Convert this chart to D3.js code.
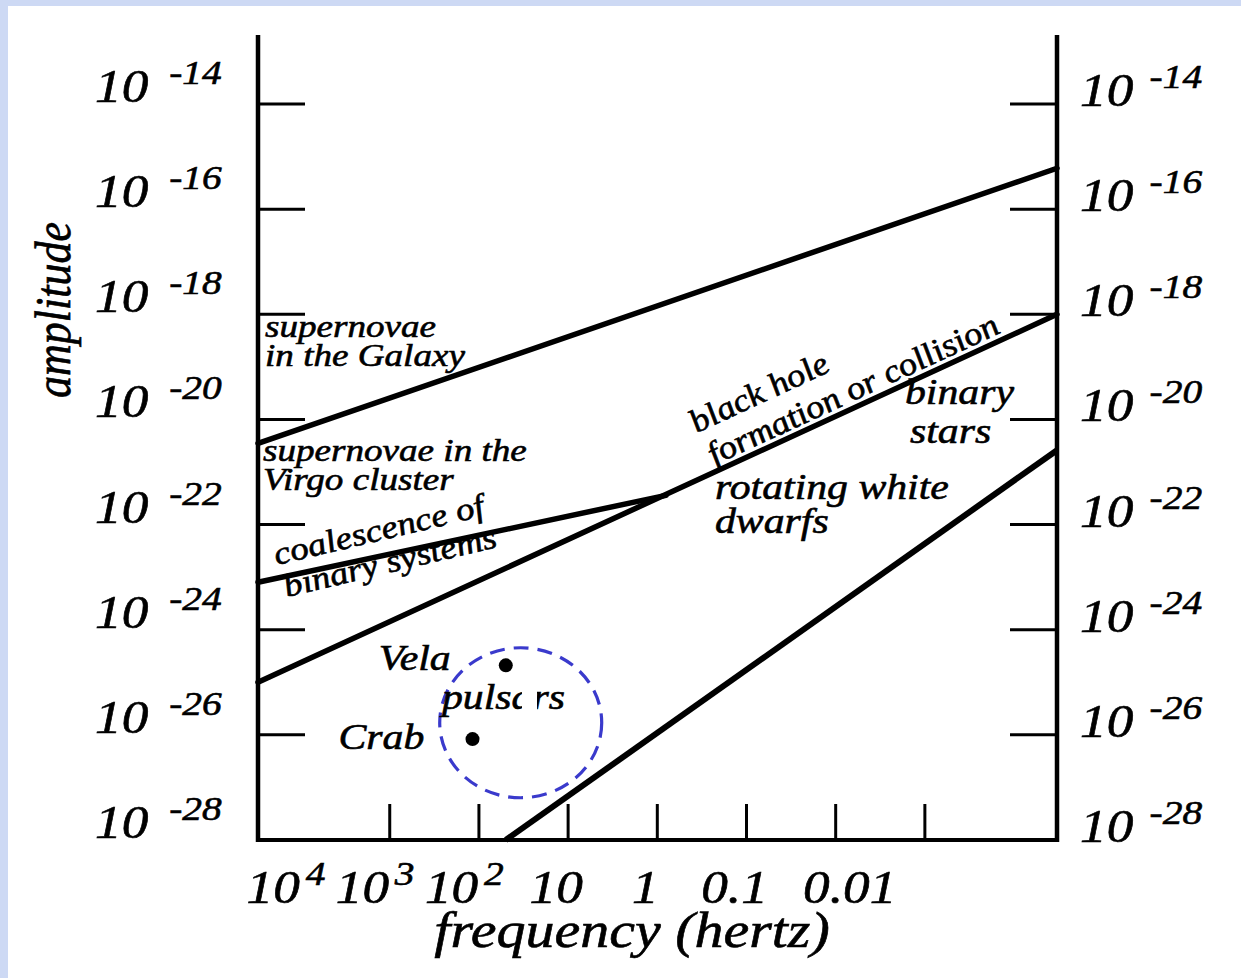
<!DOCTYPE html>
<html>
<head>
<meta charset="utf-8">
<script src="https://cdn.jsdelivr.net/npm/d3@7"></script>
<style>
html, body { margin: 0; padding: 0; background: #fff; }
svg text { font-family: "Liberation Serif", "Times New Roman", serif; font-style: italic; fill: #000; stroke: #000; stroke-width: 0.6; }
</style>
</head>
<body>
<div id="chart"></div>
<script>
// tick values and labels
const freqTicks = [1e3, 1e2, 10, 1, 0.1, 0.01, 0.001];
const freqLabelValues = [1e4, 1e3, 1e2, 10, 1, 0.1, 0.01];
const freqLabelBase = ["10", "10", "10", "10", "1", "0.1", "0.01"];
const freqLabelSup = ["4", "3", "2", "", "", "", ""];
const ampTicks = [1e-14, 1e-16, 1e-18, 1e-20, 1e-22, 1e-24, 1e-26, 1e-28];
const ampExponents = ["-14", "-16", "-18", "-20", "-22", "-24", "-26", "-28"];

// source bands: [frequency Hz, amplitude]
const galaxyLine = [[3e4, 3.5e-21], [3.3e-5, 6e-16]];
const coalescenceLine = [[3e4, 8e-24], [0.8, 3.6e-22]];
const blackHoleLine = [[3e4, 1e-25], [3.3e-5, 1e-18]];
const binaryStarsLine = [[50, 1e-28], [3.3e-5, 2.6e-21]];

// pulsars
const pulsarNames = ["Vela", "Crab"];
const pulsarFreq = [50, 118];
const pulsarAmp = [2.1e-25, 8.3e-27];
const pulsarRing = [34, 1.7e-26];

const W = 1241, H = 978;
const k = 1.16; // the scan is stretched sideways

const svg = d3.select("#chart").append("svg")
    .attr("width", W).attr("height", H);

// page background with the bluish edge of the slide
svg.append("rect").attr("width", W).attr("height", H).attr("fill", "#fff");
svg.append("rect").attr("width", W).attr("height", 6).attr("fill", "#cdd9f4");
svg.append("rect").attr("width", 8).attr("height", H).attr("fill", "#cdd9f4");

const x = d3.scaleLog().domain([3e4, 3.3e-5]).range([258, 1057]);
const y = d3.scaleLog().domain([1e-28, 1e-14]).range([840, 104]);
const yTop = 35;

function label(g, txt, tx, ty, size, rot) {
    return g.append("text")
        .attr("transform", `translate(${tx},${ty}) scale(${k},1) rotate(${-(rot || 0)})`)
        .attr("font-size", size)
        .text(txt);
}

// frame
const frame = svg.append("g").attr("stroke", "#000").attr("fill", "none");
frame.append("line").attr("x1", x.range()[0]).attr("x2", x.range()[0])
    .attr("y1", yTop).attr("y2", y(1e-28) + 2).attr("stroke-width", 4.5);
frame.append("line").attr("x1", x.range()[1]).attr("x2", x.range()[1])
    .attr("y1", yTop).attr("y2", y(1e-28) + 2).attr("stroke-width", 4.5);
frame.append("line").attr("x1", x.range()[0] - 2).attr("x2", x.range()[1] + 2)
    .attr("y1", y(1e-28)).attr("y2", y(1e-28)).attr("stroke-width", 4);

// y ticks, both sides
const yTickVals = ampTicks.slice(0, -1);
frame.selectAll("line.lt").data(yTickVals).enter().append("line")
    .attr("x1", x.range()[0]).attr("x2", x.range()[0] + 47)
    .attr("y1", d => y(d)).attr("y2", d => y(d)).attr("stroke-width", 3);
frame.selectAll("line.rt").data(yTickVals).enter().append("line")
    .attr("x1", x.range()[1] - 47).attr("x2", x.range()[1])
    .attr("y1", d => y(d)).attr("y2", d => y(d)).attr("stroke-width", 3);
// x ticks
frame.selectAll("line.bt").data(freqTicks).enter().append("line")
    .attr("x1", d => x(d)).attr("x2", d => x(d))
    .attr("y1", y(1e-28)).attr("y2", y(1e-28) - 36).attr("stroke-width", 3);

// y tick labels
const axisText = svg.append("g");
function powerLabel(tx, ty, base, sup, gap) {
    const t = axisText.append("text")
        .attr("transform", `translate(${tx},${ty}) scale(${k},1)`)
        .attr("font-size", 46);
    t.append("tspan").text(base);
    if (sup) t.append("tspan").attr("font-size", 34).attr("dx", gap).attr("dy", -18).text(sup);
    return t;
}
ampTicks.forEach((v, i) => {
    powerLabel(95, y(v) - 2, "10", ampExponents[i], 18);
    powerLabel(1080, y(v) + 2, "10", ampExponents[i], 14);
});

// x tick labels (the last one sits a little apart in the original)
freqLabelValues.forEach((v, i) => {
    if (freqLabelSup[i]) {
        powerLabel(x(v) - 54, 903, freqLabelBase[i], freqLabelSup[i], 5);
    } else {
        const shift = i === freqLabelValues.length - 1 ? 14 : -12;
        label(axisText, freqLabelBase[i], x(v) + shift, 903, 46).attr("text-anchor", "middle");
    }
});

// axis titles
label(axisText, "frequency (hertz)", 632, 947, 50).attr("text-anchor", "middle");
axisText.append("text")
    .attr("transform", `translate(70,310) scale(${k},1) rotate(-90)`)
    .attr("font-size", 44).attr("text-anchor", "middle")
    .text("amplitude");

// source bands
const line = d3.line().x(d => x(d[0])).y(d => y(d[1]));
const bands = svg.append("g").attr("fill", "none").attr("stroke", "#000").attr("stroke-linecap", "round");
[galaxyLine, coalescenceLine, blackHoleLine].forEach(d => {
    bands.append("path").attr("d", line(d)).attr("stroke-width", 5.5);
});
bands.append("path").attr("d", line(binaryStarsLine)).attr("stroke-width", 6).attr("stroke-linecap", "butt");

// band labels
const notes = svg.append("g");
label(notes, "supernovae", 265, 337, 32);
label(notes, "in the Galaxy", 265, 366, 32);
label(notes, "supernovae in the", 263, 461, 32);
label(notes, "Virgo cluster", 263, 490, 32);
label(notes, "coalescence of", 277, 565, 32, 15.4);
label(notes, "binary systems", 287, 597, 32, 15.4);
label(notes, "black hole", 697, 433, 32, 28.2);
label(notes, "formation or collision", 715, 465, 32, 28.2);
label(notes, "binary", 905, 404, 36);
label(notes, "stars", 910, 443, 36);
label(notes, "rotating white", 715, 499, 36);
label(notes, "dwarfs", 715, 533, 36);

// pulsars
const ps = svg.append("g");
ps.append("ellipse")
    .attr("cx", x(pulsarRing[0])).attr("cy", y(pulsarRing[1]))
    .attr("rx", 81).attr("ry", 75)
    .attr("fill", "none").attr("stroke", "#3a3acc").attr("stroke-width", 3.2)
    .attr("stroke-dasharray", "15 9");
ps.selectAll("circle.dot").data(pulsarNames).enter().append("circle")
    .attr("cx", (d, i) => x(pulsarFreq[i])).attr("cy", (d, i) => y(pulsarAmp[i]))
    .attr("r", 7).attr("fill", "#000");
label(ps, "Vela", x(pulsarFreq[0]) - 127, y(pulsarAmp[0]) + 5, 36);
label(ps, "Crab", x(pulsarFreq[1]) - 134, y(pulsarAmp[1]) + 10, 36);
label(ps, "pulsars", 442, 709, 36);
// part of the word is rubbed out in the scan
ps.append("rect").attr("x", 522).attr("y", 684).attr("width", 15).attr("height", 30).attr("fill", "#fff");
</script>
</body>
</html>
